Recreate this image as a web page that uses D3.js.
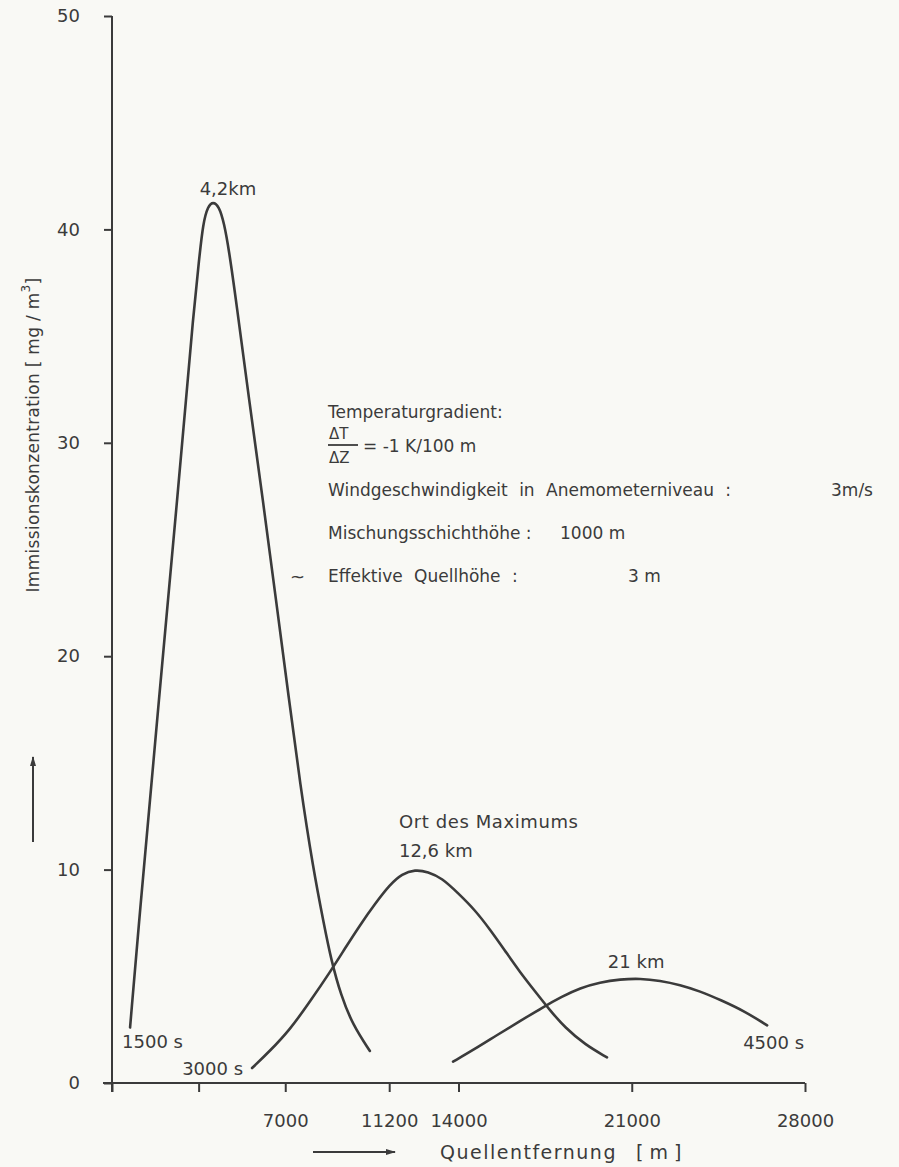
<!DOCTYPE html>
<html>
<head>
<meta charset="utf-8">
<script src="https://cdn.jsdelivr.net/npm/d3@7"></script>
<style>
  body { margin: 0; background: #f9f9f5; }
  svg text { font-family: "DejaVu Sans", "Liberation Sans", sans-serif; fill: #3b3b3b; }
</style>
</head>
<body>
<svg id="canvas" width="899" height="1167"></svg>
<script>
// Quellentfernung [m] und Immissionskonzentration [mg/m3] je Zeitpunkt
const dist1500 = [730, 1170, 1540, 1900, 2260, 2630, 2990, 3270, 3520, 3680, 3880, 4080, 4320, 4530, 4730, 5010, 5540, 6100, 6630, 7150, 7600, 8120, 8570, 8850, 9250, 9740, 10420]
const conc1500 = [2.6, 8.6, 13.3, 18.0, 22.6, 27.3, 32.0, 35.8, 38.6, 40.3, 41.1, 41.3, 41.1, 40.3, 39.0, 36.7, 32.0, 27.3, 22.6, 18.0, 14.0, 10.1, 7.4, 5.8, 4.1, 2.7, 1.5]

const dist3000 = [5660, 6380, 7190, 7990, 8810, 9410, 10020, 10630, 11230, 11720, 12240, 12770, 13330, 13980, 14670, 15270, 15880, 16480, 17090, 17700, 18300, 19110, 20000]
const conc3000 = [0.7, 1.5, 2.5, 3.8, 5.2, 6.3, 7.4, 8.4, 9.3, 9.8, 10.0, 9.9, 9.6, 8.9, 8.1, 7.2, 6.2, 5.2, 4.3, 3.4, 2.6, 1.8, 1.2]

const dist4500 = [13780, 14670, 15560, 16480, 17410, 18180, 18910, 19720, 20530, 21340, 22140, 22950, 23760, 24570, 25580, 26470]
const conc4500 = [1.0, 1.6, 2.25, 2.9, 3.55, 4.05, 4.45, 4.72, 4.86, 4.9, 4.8, 4.6, 4.3, 3.9, 3.35, 2.7]

const timeLabels = ["1500 s", "3000 s", "4500 s"]
const maxLabels = ["4,2km", "12,6 km", "21 km"]

const xTicks = [0, 3500, 7000, 11200, 14000, 21000, 28000]
const xTickLabels = ["", "", "7000", "11200", "14000", "21000", "28000"]
const yTicks = [0, 10, 20, 30, 40, 50]

const ink = "#3b3b3b"
let canvas = d3.select("#canvas")

const x = d3.scaleLinear().domain([0, 28000]).range([112, 805])
const y = d3.scaleLinear().domain([0, 50]).range([1083, 16])

// Achsen
const yAxis = d3.axisLeft(y).tickValues(yTicks).tickSize(8).tickPadding(24)
const gy = canvas.append("g").attr("transform", "translate(112,0)").call(yAxis)
gy.select(".domain").remove()
gy.selectAll(".tick line").attr("stroke", ink).attr("stroke-width", 2)
gy.selectAll(".tick text").attr("font-size", 18).style("font-family", "DejaVu Sans").attr("fill", ink)

const xAxis = d3.axisBottom(x).tickValues(xTicks)
    .tickFormat((d, i) => xTickLabels[i]).tickSize(9).tickPadding(22)
const gx = canvas.append("g").attr("transform", "translate(0,1083)").call(xAxis)
gx.select(".domain").remove()
gx.selectAll(".tick line").attr("stroke", ink).attr("stroke-width", 2)
gx.selectAll(".tick text").attr("font-size", 18).style("font-family", "DejaVu Sans").attr("fill", ink)

// Achsenlinien
canvas.append("line")
    .attr("x1", x(0)).attr("x2", x(0)).attr("y1", y(50)).attr("y2", y(0) + 9)
    .attr("stroke", ink).attr("stroke-width", 2)
canvas.append("line")
    .attr("x1", x(0) - 9).attr("x2", x(28000)).attr("y1", y(0)).attr("y2", y(0))
    .attr("stroke", ink).attr("stroke-width", 2)

// Kurven (geglaettet)
const line = d3.line()
    .x(d => x(d[0]))
    .y(d => y(d[1]))
    .curve(d3.curveBasis)

const series = [
    d3.zip(dist1500, conc1500),
    d3.zip(dist3000, conc3000),
    d3.zip(dist4500, conc4500)
]

canvas.selectAll("path.kurve")
    .data(series)
    .enter()
    .append("path")
    .attr("class", "kurve")
    .attr("d", line)
    .attr("fill", "none")
    .attr("stroke", ink)
    .attr("stroke-width", 2.6)
    .attr("stroke-linecap", "round")

// Beschriftung
const lbl = (tx, ty, s, size, anchor, spacing) => canvas.append("text")
    .attr("x", tx).attr("y", ty)
    .attr("font-size", size || 18)
    .attr("text-anchor", anchor || "start")
    .attr("dominant-baseline", "central")
    .attr("letter-spacing", spacing || 0)
    .text(s)

// Zeitpunkte an den Kurvenenden
lbl(x(dist1500[0]) - 8, y(conc1500[0]) + 14, timeLabels[0])
lbl(x(dist3000[0]) - 9, y(conc3000[0]), timeLabels[1], 18, "end")
lbl(x(d3.max(dist4500)) - 24, y(conc4500[conc4500.length - 1]) + 17, timeLabels[2])

// Ort der Maxima
const peak = (ds, cs) => { let i = d3.maxIndex(cs); return [ds[i], cs[i]] }
let p1 = peak(dist1500, conc1500), p2 = peak(dist3000, conc3000), p3 = peak(dist4500, conc4500)
lbl(x(p1[0]) + 15, y(p1[1]) - 13, maxLabels[0], 18, "middle")
lbl(x(p2[0]) - 16, y(p2[1]) - 48, "Ort des Maximums", 18, "start", 0.6)
lbl(x(p2[0]) - 16, y(p2[1]) - 19, maxLabels[1])
lbl(x(p3[0]) - 4, y(p3[1]) - 17, maxLabels[2], 18, "middle")

// Randbedingungen
lbl(328, 412, "Temperaturgradient:", 17)
lbl(329, 434, "ΔT", 15)
canvas.append("line").attr("x1", 328).attr("x2", 358).attr("y1", 445).attr("y2", 445)
    .attr("stroke", ink).attr("stroke-width", 1.8)
lbl(329, 458, "ΔZ", 15)
lbl(363, 446, "= -1 K/100 m", 17)
lbl(328, 490, "Windgeschwindigkeit in Anemometerniveau :", 17).attr("word-spacing", 6)
lbl(831, 490, "3m/s", 17)
lbl(328, 533, "Mischungsschichthöhe :", 17)
lbl(560, 533, "1000 m", 17)
lbl(290, 576, "~", 18)
lbl(328, 576, "Effektive Quellhöhe :", 17).attr("word-spacing", 6)
lbl(628, 576, "3 m", 17)

// Achsentitel mit Pfeilen
canvas.append("text")
    .attr("transform", "translate(33,435) rotate(-90)")
    .attr("text-anchor", "middle")
    .attr("dominant-baseline", "central")
    .attr("font-size", 17)
    .attr("letter-spacing", 0.3)
    .html('Immissionskonzentration  [ mg / m<tspan dy="-7" font-size="12">3</tspan><tspan dy="7">]</tspan>')

canvas.append("defs").append("marker")
    .attr("id", "pfeil").attr("viewBox", "0 0 10 6").attr("refX", 9).attr("refY", 3)
    .attr("markerWidth", 11).attr("markerHeight", 6).attr("markerUnits", "userSpaceOnUse")
    .attr("orient", "auto")
    .append("path").attr("d", "M0,0L10,3L0,6Z").attr("fill", ink)

canvas.append("line")
    .attr("x1", 33).attr("x2", 33).attr("y1", 842).attr("y2", 757)
    .attr("stroke", ink).attr("stroke-width", 2).attr("marker-end", "url(#pfeil)")
canvas.append("line")
    .attr("x1", 313).attr("x2", 395).attr("y1", 1152).attr("y2", 1152)
    .attr("stroke", ink).attr("stroke-width", 2).attr("marker-end", "url(#pfeil)")

lbl(440, 1152, "Quellentfernung", 19, "start", 1.5)
lbl(636, 1152, "[ m ]", 19)
</script>
</body>
</html>
